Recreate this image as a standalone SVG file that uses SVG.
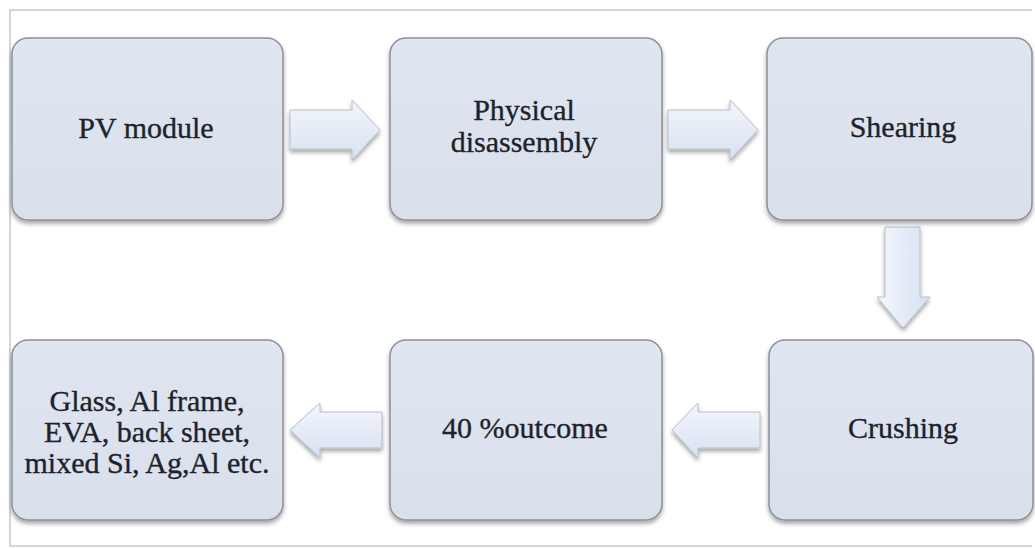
<svg xmlns="http://www.w3.org/2000/svg" width="1035" height="548" viewBox="0 0 1035 548">
<defs>
<linearGradient id="boxg" x1="0" y1="0" x2="0" y2="1">
<stop offset="0" stop-color="#dfe6f1"/>
<stop offset="1" stop-color="#d9e0ec"/>
</linearGradient>
<linearGradient id="arrh" x1="0" y1="0" x2="0" y2="1">
<stop offset="0" stop-color="#f4f7fc"/>
<stop offset="1" stop-color="#d6e1f2"/>
</linearGradient>
<linearGradient id="arrv" x1="0" y1="0" x2="1" y2="0">
<stop offset="0" stop-color="#f4f7fc"/>
<stop offset="1" stop-color="#d6e1f2"/>
</linearGradient>
<filter id="sh" x="-10%" y="-10%" width="120%" height="125%">
<feDropShadow dx="0" dy="3" stdDeviation="2" flood-color="#000" flood-opacity="0.35"/>
</filter>
</defs>
<style>
.box{fill:url(#boxg);stroke:#8c9098;stroke-width:1.5;filter:url(#sh)}
.ah{fill:url(#arrh);stroke:#b8bec8;stroke-width:1;filter:url(#sh)}
.av{fill:url(#arrv);stroke:#b8bec8;stroke-width:1;filter:url(#sh)}
.t{font-family:'Liberation Serif','Times New Roman',serif;font-size:30px;fill:#1f2329;stroke:#1f2329;stroke-width:0.35;text-anchor:middle}
.frame{stroke:#c8c8c8;stroke-width:1.5;fill:none}
</style>
<rect width="1035" height="548" fill="#ffffff"/>
<path class="frame" d="M1032 10 H10 V546 H1032"/>
<g id="connectors">
<path class="ah" d="M290 110 H352 V100 L380 130 L352 160 V149 H290 Z"/>
<path class="ah" d="M668 110 H730 V100 L758 130 L730 160 V149 H668 Z"/>
<path class="av" d="M885 227 H920 V297 H930 L903 328 L877 297 H885 Z"/>
<path class="ah" d="M760 412 H698 V403 L672 430 L698 458 V448 H760 Z"/>
<path class="ah" d="M382 412 H320 V403 L290 430 L320 458 V448 H382 Z"/>
</g>
<g id="n1"><rect class="box" x="12" y="38" width="271" height="182" rx="16"/><text class="t" x="146" y="138">PV module</text></g>
<g id="n2"><rect class="box" x="390" y="38" width="272" height="182" rx="16"/><text class="t" x="524" y="120">Physical</text><text class="t" x="524" y="152">disassembly</text></g>
<g id="n3"><rect class="box" x="767" y="38" width="265" height="182" rx="16"/><text class="t" x="903" y="137">Shearing</text></g>
<g id="n4"><rect class="box" x="769" y="340" width="264" height="180" rx="16"/><text class="t" x="903" y="438">Crushing</text></g>
<g id="n5"><rect class="box" x="390" y="340" width="272" height="180" rx="16"/><text class="t" x="525" y="438">40 %outcome</text></g>
<g id="n6"><rect class="box" x="12" y="340" width="271" height="180" rx="16"/><text class="t" x="147" y="411">Glass, Al frame,</text><text class="t" x="147" y="442">EVA, back sheet,</text><text class="t" x="147" y="473">mixed Si, Ag,Al etc.</text></g>
</svg>
